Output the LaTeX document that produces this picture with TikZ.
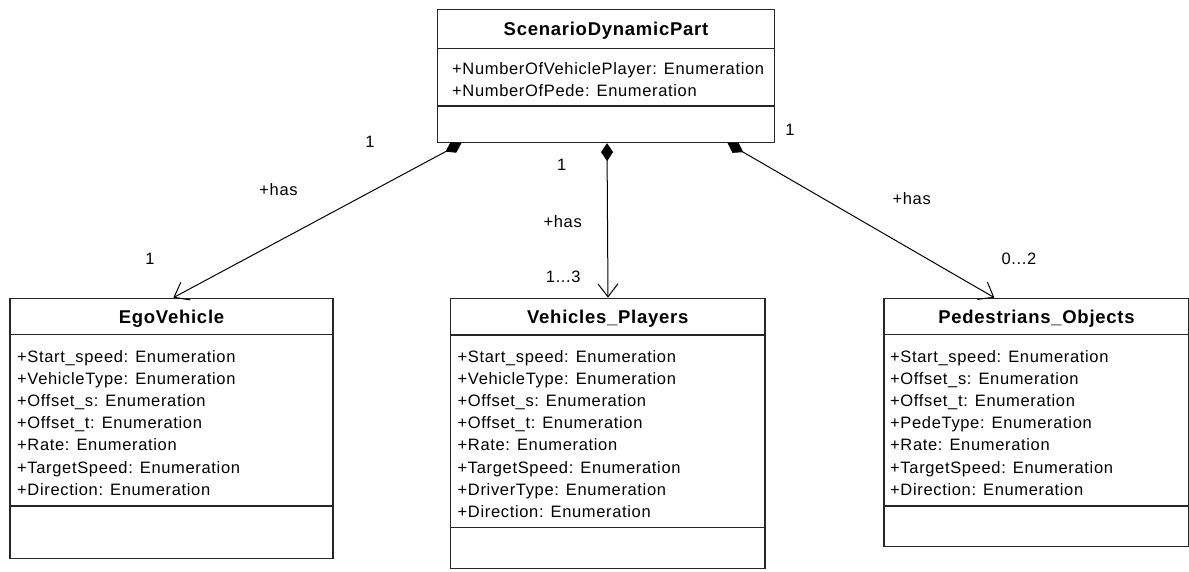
\documentclass[tikz,border=0pt]{standalone}
\usepackage{fontspec}
\setmainfont{Liberation Sans}[LetterSpace=4]
\usetikzlibrary{arrows.meta}

\begin{document}
\begin{tikzpicture}[x=1pt,y=1pt,
  classbox/.style 2 args={draw=black!85,line width=1.3pt,minimum width=#1,minimum height=#2,inner sep=0pt},
  sep/.style={draw=black!85,line width=1.3pt},
  clsname/.style={font=\fontsize{18.5}{22}\selectfont\bfseries,anchor=base,inner sep=0pt},
  attr/.style={font=\fontsize{16.5}{20}\selectfont,anchor=base west,inner sep=0pt},
  mult/.style={font=\fontsize{16.5}{20}\selectfont,inner sep=0pt},
  comp/.style={line width=1pt,{Diamond[length=18pt,width=12pt]}-{Straight Barb[length=13pt,width=20pt]}}]
\useasboundingbox (0,0) rectangle (1189,-571);
% classes
\node[classbox={337pt}{133pt}] (dyn) at (606,-76) {};
\node[classbox={323pt}{260pt}] (ego) at (171.5,-428.3) {};
\node[classbox={314.3pt}{270pt}] (veh) at (607.8,-433.3) {};
\node[classbox={305pt}{248.4pt}] (ped) at (1036.5,-422.5) {};
\foreach \cls/\tsep/\asep in {dyn/39.5/97.2,ego/36.7/208.4,veh/37.4/230,ped/36.7/208.4} {
  \draw[sep] ([yshift=-\tsep pt]\cls.north west) -- ([yshift=-\tsep pt]\cls.north east);
  \draw[sep] ([yshift=-\asep pt]\cls.north west) -- ([yshift=-\asep pt]\cls.north east);
}
\node[clsname] (dynname) at ([yshift=-26.2pt]dyn.north) {ScenarioDynamicPart};
\node[clsname] (egoname) at ([yshift=-26pt]ego.north) {EgoVehicle};
\node[clsname] (vehname) at ([yshift=-26pt]veh.north) {Vehicles\_Players};
\node[clsname] (pedname) at ([yshift=-26pt]ped.north) {Pedestrians\_Objects};
% attributes
\foreach \a [count=\i] in {NumberOfVehiclePlayer,NumberOfPede} {
  \node[attr] (dyna\i) at (452,{-74-22.5*(\i-1)}) {+\a: Enumeration};
}
\foreach \a [count=\i] in {Start\_speed,VehicleType,Offset\_s,Offset\_t,Rate,TargetSpeed,Direction} {
  \node[attr] (egoa\i) at (17,{-362-22.2*(\i-1)}) {+\a: Enumeration};
}
\foreach \a [count=\i] in {Start\_speed,VehicleType,Offset\_s,Offset\_t,Rate,TargetSpeed,DriverType,Direction} {
  \node[attr] (veha\i) at (457.5,{-362-22.2*(\i-1)}) {+\a: Enumeration};
}
\foreach \a [count=\i] in {Start\_speed,Offset\_s,Offset\_t,PedeType,Rate,TargetSpeed,Direction} {
  \node[attr] (peda\i) at (890,{-362-22.2*(\i-1)}) {+\a: Enumeration};
}
% compositions
\draw[comp] ([xshift=24.5pt]dyn.south west) -- ([xshift=164pt]ego.north west);
\draw[comp] ([xshift=1pt]dyn.south) -- ([xshift=0.2pt]veh.north);
\draw[comp] ([xshift=-47.5pt]dyn.south east) -- ([xshift=111pt]ped.north west);
\node[mult] (egosrc) at (370,-142) {1};
\node[mult] (egorole) at (278.5,-190) {+has};
\node[mult] (egodst) at (150,-259) {1};
\node[mult] (vehsrc) at (561.7,-165) {1};
\node[mult] (vehrole) at (562.7,-221.5) {+has};
\node[mult] (vehdst) at (563.3,-276.5) {1...3};
\node[mult] (pedsrc) at (790,-130) {1};
\node[mult] (pedrole) at (911.7,-198.3) {+has};
\node[mult] (peddst) at (1019,-259) {0...2};
\end{tikzpicture}
\end{document}
